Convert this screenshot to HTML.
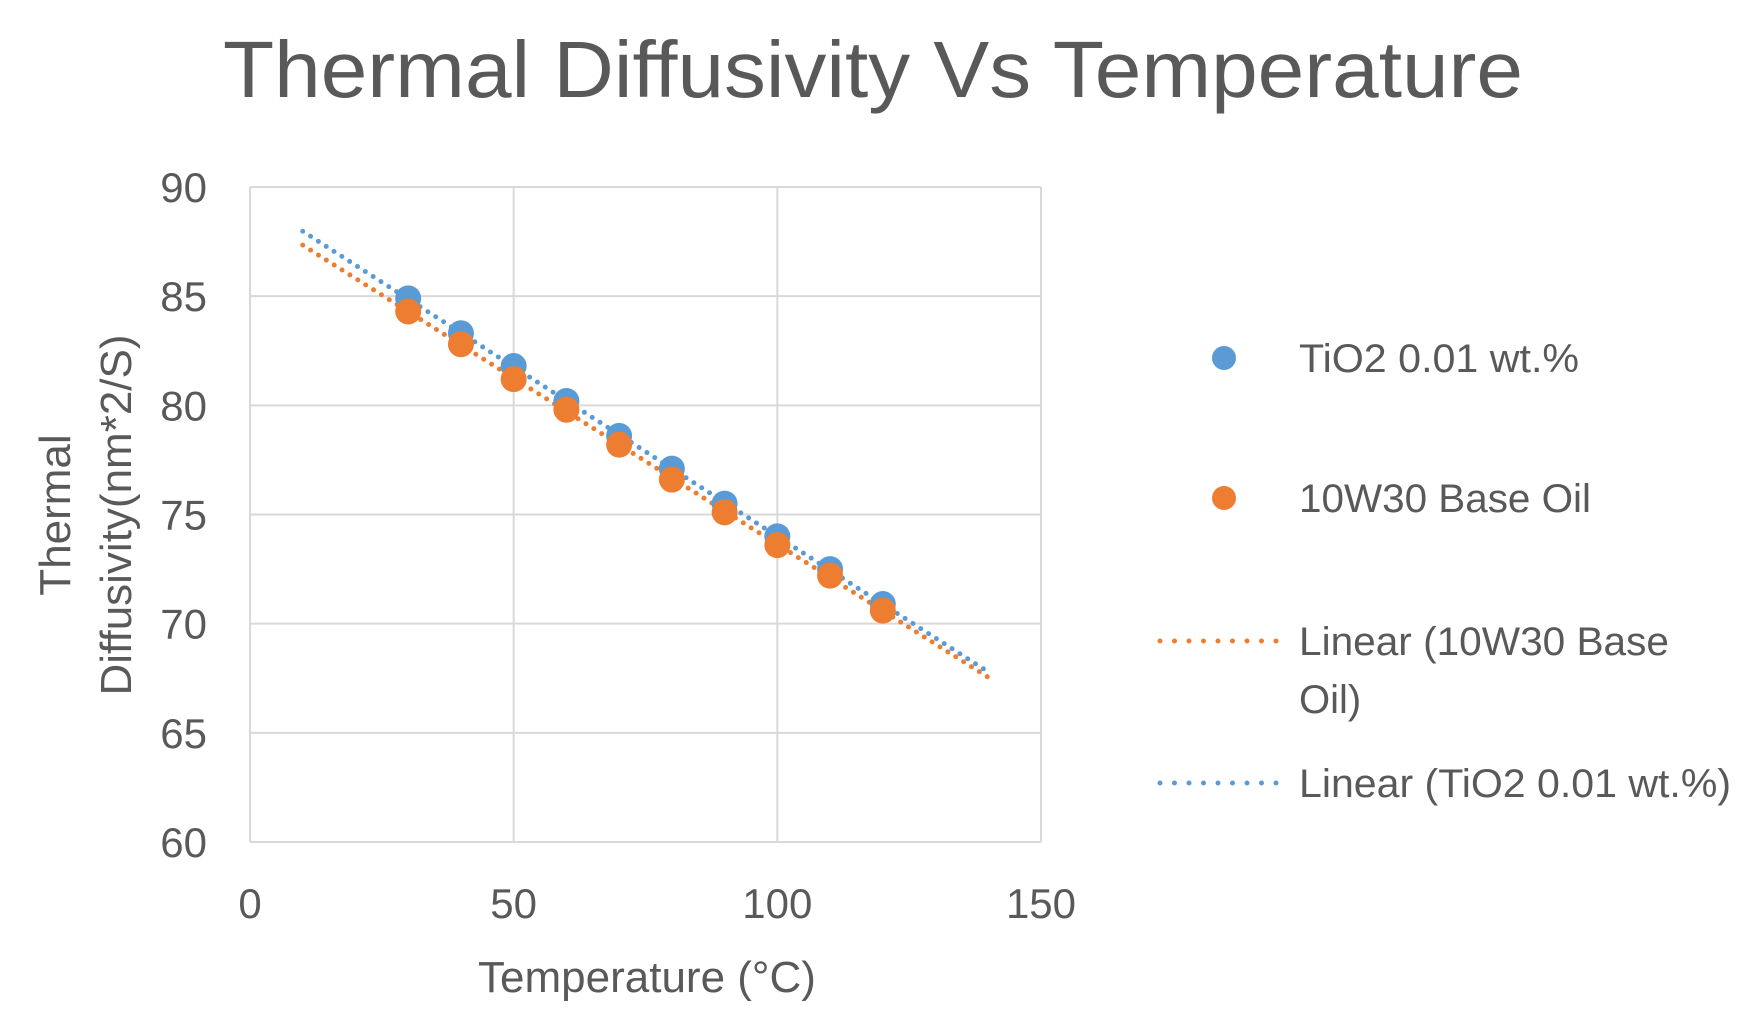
<!DOCTYPE html>
<html><head><meta charset="utf-8"><style>
html,body{margin:0;padding:0;background:#fff;}
svg{display:block;font-family:"Liberation Sans",sans-serif;}
</style></head><body>
<svg id="chart" width="1746" height="1026" viewBox="0 0 1746 1026">
<text x="873" y="97" text-anchor="middle" font-size="80" fill="#595959" textLength="1300" lengthAdjust="spacingAndGlyphs">Thermal Diffusivity Vs Temperature</text>
<g id="grid"></g>
<g id="axes"></g>
<g id="trend"></g>
<g id="points"></g>
<text x="647" y="992" text-anchor="middle" font-size="44" fill="#595959">Temperature (°C)</text>
<g font-size="44" fill="#595959" text-anchor="middle">
<text transform="translate(70,515) rotate(-90)">Thermal</text>
<text transform="translate(131,515) rotate(-90)">Diffusivity(nm*2/S)</text>
</g>
<g font-size="40" fill="#595959">
<circle cx="1224" cy="358" r="12" fill="#5B9BD5"/>
<text x="1299" y="372" textLength="280" lengthAdjust="spacingAndGlyphs">TiO2 0.01 wt.%</text>
<circle cx="1224" cy="498" r="12" fill="#ED7D31"/>
<text x="1299" y="512" textLength="292" lengthAdjust="spacingAndGlyphs">10W30 Base Oil</text>
<line x1="1160" y1="641" x2="1288" y2="641" stroke="#ED7D31" stroke-width="5" stroke-dasharray="0 14.5" stroke-linecap="round"/>
<text x="1299" y="655" textLength="370" lengthAdjust="spacingAndGlyphs">Linear (10W30 Base</text>
<text x="1299" y="713">Oil)</text>
<line x1="1160" y1="783" x2="1288" y2="783" stroke="#5B9BD5" stroke-width="5" stroke-dasharray="0 14.5" stroke-linecap="round"/>
<text x="1299" y="797" textLength="432" lengthAdjust="spacingAndGlyphs">Linear (TiO2 0.01 wt.%)</text>
</g>
</svg>
<script>
const temps = [30,40,50,60,70,80,90,100,110,120];
const tio2Values = [84.9,83.3,81.8,80.2,78.6,77.1,75.5,74.0,72.5,70.9];
const oilValues = [84.3,82.8,81.2,79.8,78.2,76.6,75.1,73.6,72.2,70.6];
const xTicks = [0,50,100,150];
const yTicks = [60,65,70,75,80,85,90];
const trendRange = [10,140];

const NS="http://www.w3.org/2000/svg";
const L=250,R=1041,T=187,B=842;
const xs=v=>L+(v-0)/(150-0)*(R-L);
const ys=v=>B-(v-60)/(90-60)*(B-T);
function mk(tag,attrs,parent){const e=document.createElementNS(NS,tag);for(const k in attrs)e.setAttribute(k,attrs[k]);parent.appendChild(e);return e;}
const grid=document.getElementById('grid'),axes=document.getElementById('axes'),trend=document.getElementById('trend'),pts=document.getElementById('points');
yTicks.forEach(v=>{
 const ln=mk('line',{x1:L,x2:R,y1:ys(v),y2:ys(v),stroke:'#d9d9d9','stroke-width':2},grid);
 
 
 const t=mk('text',{x:207,y:ys(v)+15,'text-anchor':'end','font-size':42,fill:'#595959'},axes);
 t.textContent=v;
 
 
});
xTicks.forEach(v=>{
 const ln=mk('line',{x1:xs(v),x2:xs(v),y1:T,y2:B,stroke:'#d9d9d9','stroke-width':2},grid);
 
 
 const t=mk('text',{x:xs(v),y:918,'text-anchor':'middle','font-size':42,fill:'#595959'},axes);
 t.textContent=v;
 
 
});
function fit(x,y){const n=x.length;const mx=x.reduce((a,b)=>a+b)/n,my=y.reduce((a,b)=>a+b)/n;let sxy=0,sxx=0;for(let i=0;i<n;i++){sxy+=(x[i]-mx)*(y[i]-my);sxx+=(x[i]-mx)**2;}const m=sxy/sxx;return [m,my-m*mx];}
[[oilValues,'#ED7D31','trend-oil'],[tio2Values,'#5B9BD5','trend-tio2']].forEach(([vals,c,name])=>{
 const [m,b]=fit(temps,vals);
 const ln=mk('line',{x1:xs(trendRange[0]),y1:ys(m*trendRange[0]+b),x2:xs(trendRange[1]),y2:ys(m*trendRange[1]+b),stroke:c,'stroke-width':5,'stroke-dasharray':'0 9.3','stroke-linecap':'round'},trend);
 
 
});
temps.forEach((t,i)=>{
 const c=mk('circle',{cx:xs(t),cy:ys(tio2Values[i]),r:13,fill:'#5B9BD5'},pts);
 
 
});
temps.forEach((t,i)=>{
 const c=mk('circle',{cx:xs(t),cy:ys(oilValues[i]),r:13,fill:'#ED7D31'},pts);
 
 
});
</script>
</body></html>
